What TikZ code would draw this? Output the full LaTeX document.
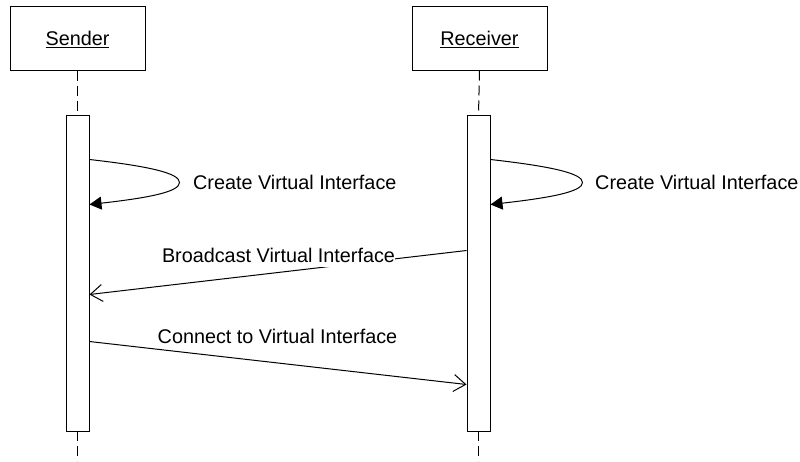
\documentclass[tikz,border=0pt]{standalone}
\usepackage{fontspec}
\setmainfont{Liberation Sans}
\usetikzlibrary{arrows.meta,calc}
\begin{document}
\begin{tikzpicture}[x=1pt,y=-1pt,
  every node/.style={font=\fontsize{19.8}{23}\selectfont},
  objbox/.style={draw, line width=1pt, minimum width=135pt, minimum height=64pt, inner sep=0pt, text height=15pt, text depth=0pt},
  actbar/.style={draw, line width=1pt, fill=white, minimum width=23pt, minimum height=316pt, inner sep=0pt},
  life/.style={line width=1pt, dash pattern=on 10pt off 5pt},
  msg/.style={line width=1pt},
  selftip/.style={-{Triangle[length=12pt,width=13pt]}},
  opentip/.style={-{Straight Barb[length=12pt,width=17pt]}},
  lbl/.style={inner sep=0pt, fill=white, text depth=5pt}
]
\useasboundingbox (0,0) rectangle (800,461);
% lifeline heads
\node[objbox] (S) at (77.5,38) {\underline{Sender}};
\node[objbox] (R) at (479.5,38) {\underline{Receiver}};
% dashed lifelines
\coordinate (Send) at (77.5,461);
\coordinate (Rend) at (478.5,461);
\draw[life] (S.south) -- (77.5,115);
\draw[life] (R.south) -- (478.5,115);
\draw[life] (77.5,431) -- (Send);
\draw[life] (478.5,431) -- (Rend);
% activation bars
\node[actbar] (SB) at (77.5,273) {};
\node[actbar] (RB) at (478.5,273) {};
% self messages
\draw[msg,selftip] ($(SB.north east)+(0,45)$) .. controls +(62,7) and +(0,-9) .. +(90,23)
   .. controls +(0,9) and +(62,-7) .. ($(SB.north east)+(0,90)$);
\draw[msg,selftip] ($(RB.north east)+(0,45)$) .. controls +(62,7) and +(0,-9) .. +(92,23)
   .. controls +(0,9) and +(62,-7) .. ($(RB.north east)+(0,90)$);
\node[lbl, anchor=base west] (c1) at (193,189) {Create Virtual Interface};
\node[lbl, anchor=base west] (c2) at (595,189) {Create Virtual Interface};
% broadcast
\draw[msg,opentip] ($(RB.north west)+(0,136)$) -- ($(SB.north east)+(0,180)$);
\node[lbl, anchor=base] (b) at (278.5,262) {Broadcast Virtual Interface};
% connect
\draw[msg,opentip] ($(SB.north east)+(0,227)$) -- ($(RB.north west)+(0,270)$);
\node[lbl, anchor=base] (k) at (277.5,343) {Connect to Virtual Interface};
\end{tikzpicture}
\end{document}
